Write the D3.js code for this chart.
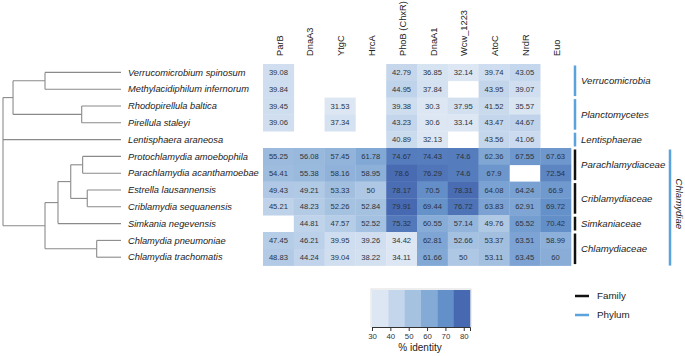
<!DOCTYPE html>
<html>
<head>
<meta charset="utf-8">
<script src="https://cdn.jsdelivr.net/npm/d3@7"></script>
<style>
  body { margin: 0; background: #fff; }
  svg { font-family: "Liberation Sans", Arial, sans-serif; }
</style>
</head>
<body>
<script>
const species = [
  'Verrucomicrobium spinosum', 'Methylacidiphilum infernorum', 'Rhodopirellula baltica',
  'Pirellula staleyi', 'Lentisphaera araneosa', 'Protochlamydia amoebophila',
  'Parachlamydia acanthamoebae', 'Estrella lausannensis', 'Criblamydia sequanensis',
  'Simkania negevensis', 'Chlamydia pneumoniae', 'Chlamydia trachomatis'
]
const genes = ['ParB', 'DnaA3', 'YtgC', 'HrcA', 'PhoB (ChxR)', 'DnaA1', 'Wcw_1223', 'AtoC', 'NrdR', 'Euo']

// % identity, one row per species, null = no value
const identity = [
  [39.08, null, null, null, 42.79, 36.85, 32.14, 39.74, 43.05, null],
  [39.84, null, null, null, 44.95, 37.84, null, 43.95, 39.07, null],
  [39.45, null, 31.53, null, 39.38, 30.3, 37.95, 41.52, 35.57, null],
  [39.06, null, 37.34, null, 43.23, 30.6, 33.14, 43.47, 44.67, null],
  [null, null, null, null, 40.89, 32.13, null, 43.56, 41.06, null],
  [55.25, 56.08, 57.45, 61.78, 74.67, 74.43, 74.6, 62.36, 67.55, 67.63],
  [54.41, 55.38, 58.16, 58.95, 78.6, 76.29, 74.6, 67.9, null, 72.54],
  [49.43, 49.21, 53.33, 50, 78.17, 70.5, 78.31, 64.08, 64.24, 66.9],
  [45.21, 48.23, 52.26, 52.84, 79.91, 69.44, 76.72, 63.83, 62.91, 69.72],
  [null, 44.81, 47.57, 52.52, 75.32, 60.55, 57.14, 49.76, 65.52, 70.42],
  [47.45, 46.21, 39.95, 39.26, 34.42, 62.81, 52.66, 53.37, 63.51, 58.99],
  [48.83, 44.24, 39.04, 38.22, 34.11, 61.66, 50, 53.11, 63.45, 60]
]

// groups: [label, first row, last row]
const families = [
  ['Parachlamydiaceae', 5, 6], ['Criblamydiaceae', 7, 8],
  ['Simkaniaceae', 9, 9], ['Chlamydiaceae', 10, 11]
]
const phyla = [
  ['Verrucomicrobia', 0, 1], ['Planctomycetes', 2, 3], ['Lentisphaerae', 4, 4]
]
const outerPhylum = ['Chlamydiae', 5, 11]

// dendrogram, node depth as a fraction of the root-to-leaf distance
const tree = { depth: 0, children: [
  { depth: 0.085, children: [
    { depth: 0.356, children: [{ leaf: 0 }, { leaf: 1 }] },
    { depth: 0.667, children: [{ leaf: 2 }, { leaf: 3 }] }
  ] },
  { leaf: 4 },
  { depth: 0.356, children: [
    { depth: 0.466, children: [
      { depth: 0.574, children: [
        { depth: 0.675, children: [{ leaf: 5 }, { leaf: 6 }] },
        { depth: 0.714, children: [{ leaf: 7 }, { leaf: 8 }] }
      ] },
      { leaf: 9 }
    ] },
    { depth: 0.794, children: [{ leaf: 10 }, { leaf: 11 }] }
  ] }
] }

const legendTicks = [30, 40, 50, 60, 70, 80]
const legendColors = ['#dde7f3', '#c4d6ec', '#a6c2e1', '#84aad6', '#6490c9', '#4769b1']
const legendStops = [34.5, 43.4, 52.3, 61.2, 70.1, 79]

const width = 685, height = 356

const svg = d3.select('body').append('svg')
  .attr('width', width)
  .attr('height', height)

const x = d3.scaleBand().domain(genes).range([263, 571])
const y = d3.scaleBand().domain(d3.range(species.length)).range([64, 265.6])
const color = d3.scaleLinear().domain(legendStops).range(legendColors).clamp(true)

// heatmap cells
const cells = []
identity.forEach((row, i) => row.forEach((v, j) => {
  if (v !== null) cells.push({ row: i, gene: genes[j], value: v })
}))

const cell = svg.append('g').selectAll('g')
  .data(cells)
  .enter().append('g')
  .attr('transform', d => `translate(${x(d.gene)},${y(d.row)})`)

cell.append('rect')
  .attr('width', x.bandwidth() + 0.3)
  .attr('height', y.bandwidth() + 0.3)
  .attr('fill', d => color(d.value))

cell.append('text')
  .attr('x', x.bandwidth() / 2)
  .attr('y', y.bandwidth() / 2)
  .attr('dy', '0.35em')
  .attr('text-anchor', 'middle')
  .attr('font-size', '7.6px')
  .attr('fill', '#2b3340')
  .text(d => d.value)

// column headers
svg.append('g').selectAll('text')
  .data(genes)
  .enter().append('text')
  .attr('transform', d => `translate(${x(d) + x.bandwidth() / 2 + 1},56) rotate(-90)`)
  .attr('dy', '0.35em')
  .attr('font-size', '9.3px')
  .attr('fill', '#222')
  .text(d => d)

// species labels
svg.append('g').selectAll('text')
  .data(species)
  .enter().append('text')
  .attr('x', 128)
  .attr('y', (d, i) => y(i) + y.bandwidth() / 2)
  .attr('dy', '0.35em')
  .attr('font-size', '9.3px')
  .attr('font-style', 'italic')
  .attr('fill', '#222')
  .text(d => d)

// dendrogram
const xTree = d3.scaleLinear().domain([0, 1]).range([3, 121])
const root = d3.hierarchy(tree)
root.eachAfter(n => {
  if (n.data.leaf !== undefined) {
    n.px = xTree(1)
    n.py = y(n.data.leaf) + y.bandwidth() / 2
  } else {
    n.px = xTree(n.data.depth)
    n.py = (n.children[0].py + n.children[n.children.length - 1].py) / 2
  }
})

const treeG = svg.append('g')
  .attr('fill', 'none')
  .attr('stroke', '#8a8a8a')
  .attr('stroke-width', 1.1)

root.descendants().filter(n => n.children).forEach(n => {
  const ys = n.children.map(c => c.py)
  treeG.append('line')
    .attr('x1', n.px).attr('x2', n.px)
    .attr('y1', d3.min(ys)).attr('y2', d3.max(ys))
  n.children.forEach(c => {
    treeG.append('line')
      .attr('x1', n.px).attr('x2', c.px)
      .attr('y1', c.py).attr('y2', c.py)
  })
})

// group bars and labels
const barX = 575
const barPad = 1.5
const phylumBlue = '#5aa3dc'

const bars = svg.append('g')
bars.selectAll('.phylum')
  .data(phyla)
  .enter().append('line')
  .attr('x1', barX).attr('x2', barX)
  .attr('y1', d => y(d[1]) + barPad)
  .attr('y2', d => y(d[2]) + y.bandwidth() - barPad)
  .attr('stroke', phylumBlue)
  .attr('stroke-width', 2.5)

bars.selectAll('.family')
  .data(families)
  .enter().append('line')
  .attr('x1', barX).attr('x2', barX)
  .attr('y1', d => y(d[1]) + barPad)
  .attr('y2', d => y(d[2]) + y.bandwidth() - barPad)
  .attr('stroke', '#111')
  .attr('stroke-width', 2.5)

svg.append('g').selectAll('text')
  .data(phyla.concat(families))
  .enter().append('text')
  .attr('x', 581)
  .attr('y', d => (y(d[1]) + y(d[2]) + y.bandwidth()) / 2)
  .attr('dy', '0.35em')
  .attr('font-size', '9.6px')
  .attr('font-style', 'italic')
  .attr('fill', '#222')
  .text(d => d[0])

bars.append('line')
  .attr('x1', 670).attr('x2', 670)
  .attr('y1', y(outerPhylum[1]) + barPad)
  .attr('y2', y(outerPhylum[2]) + y.bandwidth())
  .attr('stroke', phylumBlue)
  .attr('stroke-width', 2.5)

svg.append('text')
  .attr('transform', `translate(679,${(y(outerPhylum[1]) + y(outerPhylum[2]) + y.bandwidth()) / 2 - 3}) rotate(90)`)
  .attr('text-anchor', 'middle')
  .attr('dy', '0.35em')
  .attr('font-size', '9.6px')
  .attr('font-style', 'italic')
  .attr('fill', '#222')
  .text(outerPhylum[0])

// colour legend
const lx = d3.scaleLinear().domain([30, 83.4]).range([372, 470])
const binW = (lx.range()[1] - lx.range()[0]) / legendColors.length
const legend = svg.append('g')

legend.append('rect')
  .attr('x', 371).attr('y', 289)
  .attr('width', 100).attr('height', 38)
  .attr('fill', 'none')
  .attr('stroke', '#ddd')

legend.selectAll('.bin')
  .data(legendColors)
  .enter().append('rect')
  .attr('x', (d, i) => lx.range()[0] + i * binW)
  .attr('y', 290)
  .attr('width', binW + 0.3)
  .attr('height', 37)
  .attr('fill', d => d)

const axis = legend.append('g')
  .attr('transform', 'translate(0,327)')
  .call(d3.axisBottom(lx).tickValues(legendTicks).tickSize(4).tickSizeOuter(4))
axis.selectAll('text').attr('font-size', '7.8px').attr('fill', '#333').attr('dy', '0.6em')
axis.selectAll('line, path').attr('stroke', '#333')

legend.append('text')
  .attr('x', 420).attr('y', 351)
  .attr('text-anchor', 'middle')
  .attr('font-size', '10px')
  .attr('fill', '#222')
  .text('% identity')

// line legend
const keys = [['Family', '#111', 296], ['Phylum', phylumBlue, 315]]
const key = svg.append('g').selectAll('g')
  .data(keys)
  .enter().append('g')
key.append('line')
  .attr('x1', 575).attr('x2', 589)
  .attr('y1', d => d[2]).attr('y2', d => d[2])
  .attr('stroke', d => d[1])
  .attr('stroke-width', 2.5)
key.append('text')
  .attr('x', 597)
  .attr('y', d => d[2])
  .attr('dy', '0.35em')
  .attr('font-size', '9.8px')
  .attr('fill', '#222')
  .text(d => d[0])
</script>
</body>
</html>
